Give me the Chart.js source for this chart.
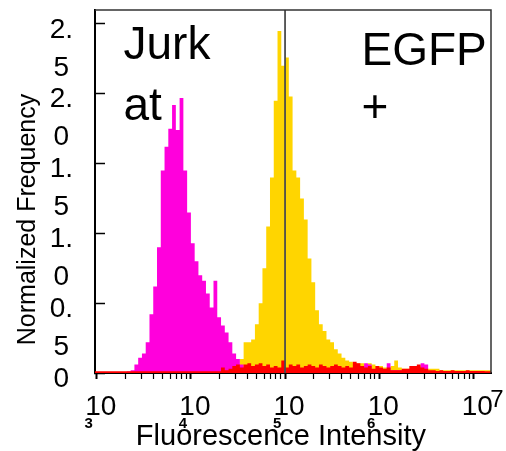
<!DOCTYPE html>
<html>
<head>
<meta charset="utf-8">
<script src="https://cdn.jsdelivr.net/npm/chart.js@4"></script>
<style>
  html, body { margin: 0; padding: 0; background: #fff; }
  #wrap { width: 506px; height: 451px; }
</style>
</head>
<body>
<div id="wrap"><canvas id="c" width="506" height="451"></canvas></div>
<script>
// ---- histogram bins (log10 of fluorescence), 0.04 decade wide, starting at 10^2.96 ----
const binStartLog = 2.96;
const binWidthLog = 0.04;

// Jurkat (magenta) normalized frequency per bin
const magenta = [
  0, 0, 0, 0, 0, 0, 0, 0, 0, 0.01,
  0.02, 0.06, 0.11, 0.14, 0.22, 0.42, 0.62, 0.90, 1.45, 1.62,
  1.75, 1.92, 1.74, 1.97, 1.45, 1.15, 0.93, 0.80, 0.70, 0.66,
  0.57, 0.47, 0.66, 0.40, 0.34, 0.29, 0.22, 0.14, 0.10, 0.06,
  0.04, 0.02, 0.02, 0.02, 0.02, 0.02, 0.02, 0.02, 0.02, 0.02,
  0.02, 0.02, 0.02, 0.02, 0.02, 0.02, 0.02, 0.02, 0.02, 0.02,
  0.02, 0.02, 0.02, 0.02, 0.02, 0.02, 0.02, 0.02, 0.02, 0.02,
  0.02, 0.02, 0.07, 0.06, 0.02, 0.02, 0.02, 0.02, 0.07, 0.02,
  0.02, 0.02, 0.02, 0.02, 0.02, 0.02, 0.02, 0.07, 0.06, 0.01,
  0.01, 0.01, 0.01, 0.01, 0.01, 0.01, 0, 0, 0, 0,
  0, 0, 0, 0, 0, 0
];

// EGFP+ (yellow) normalized frequency per bin
const yellow = [
  0, 0, 0, 0, 0, 0, 0, 0, 0, 0,
  0, 0, 0, 0, 0, 0, 0, 0, 0, 0,
  0, 0, 0, 0, 0, 0, 0, 0, 0, 0,
  0, 0, 0, 0, 0, 0, 0, 0, 0, 0.10,
  0.22, 0.22, 0.24, 0.35, 0.50, 0.75, 1.05, 1.40, 1.95, 2.45,
  2.20, 2.26, 1.98, 1.45, 1.40, 1.25, 1.10, 0.82, 0.65, 0.45,
  0.35, 0.30, 0.24, 0.22, 0.17, 0.14, 0.11, 0.09, 0.08, 0.07,
  0.07, 0.07, 0.06, 0.07, 0.06, 0.05, 0.05, 0.04, 0.04, 0.05,
  0.09, 0.04, 0.03, 0.03, 0.03, 0.05, 0.05, 0.04, 0.03, 0.03,
  0.03, 0.03, 0.02, 0.02, 0.02, 0.02, 0.02, 0.02, 0.02, 0.02,
  0.02, 0.02, 0.02, 0.02, 0.02, 0.02
];

// third (red) population normalized frequency per bin
const red = [
  0.012, 0.012, 0.012, 0.012, 0.012, 0.012, 0.012, 0.012, 0.012, 0.012,
  0.012, 0.012, 0.012, 0.012, 0.012, 0.012, 0.012, 0.012, 0.012, 0.012,
  0.012, 0.012, 0.012, 0.012, 0.012, 0.012, 0.012, 0.012, 0.012, 0.012,
  0.012, 0.012, 0.012, 0.012, 0.04, 0.02, 0.03, 0.05, 0.06, 0.04,
  0.06, 0.07, 0.05, 0.06, 0.07, 0.05, 0.06, 0.04, 0.05, 0.04,
  0.09, 0.04, 0.06, 0.05, 0.06, 0.04, 0.05, 0.06, 0.05, 0.04,
  0.06, 0.05, 0.04, 0.05, 0.06, 0.05, 0.04, 0.05, 0.04, 0.08,
  0.07, 0.05, 0.04, 0.05, 0.03, 0.05, 0.04, 0.03, 0.04, 0.02,
  0.02, 0.02, 0.03, 0.03, 0.05, 0.05, 0.06, 0.04, 0.03, 0.02,
  0.02, 0.015, 0.02, 0.015, 0.015, 0.02, 0.015, 0.015, 0.015, 0.02,
  0.015, 0.015, 0.015, 0.015, 0.012, 0.012
];

// axes
const xTickValues = [1e3, 1e4, 1e5, 1e6, 1e7];
const xTickBase = ['10', '10', '10', '10', '10'];
const xTickExponents = ['3', '4', '5', '6', '7'];
const yTickValues = [0, 0.5, 1, 1.5, 2, 2.5];
const yTickLabels = [['0', ''], ['0.', '5'], ['1.', '0'], ['1.', '5'], ['2.', '0'], ['2.', '5']];
const gateValue = 1e5;
const xTitle = 'Fluorescence Intensity';
const yTitle = 'Normalized Frequency';
const leftLabel = ['Jurk', 'at'];
const rightLabel = ['EGFP', '+'];

// ---- build step data from the bins ----
const binEdges = [];
for (let k = 0; k <= magenta.length; k++) binEdges.push(Math.pow(10, binStartLog + binWidthLog * k));
function toSteps(values) {
  const pts = values.map((v, k) => ({ x: binEdges[k], y: v }));
  pts.push({ x: binEdges[values.length], y: 0 });
  return pts;
}
const xMinorTicks = [];
for (let e = 3; e <= 7; e++) for (let m = 1; m <= 9; m++) {
  const v = m * Math.pow(10, e);
  if (v <= 1.54e7) xMinorTicks.push(v);
}
const isDecade = v => Math.abs(Math.log10(v) - Math.round(Math.log10(v))) < 1e-9;

const FONT = '"Liberation Sans", Arial, Helvetica, sans-serif';

const frame = {
  id: 'frame',
  afterDatasetsDraw(chart) {
    const { ctx, chartArea: a } = chart;
    ctx.save();
    ctx.strokeStyle = '#333';
    ctx.lineWidth = 1.5;
    ctx.beginPath();
    ctx.moveTo(a.left, a.top);
    ctx.lineTo(a.right, a.top);
    ctx.lineTo(a.right, a.bottom);
    ctx.stroke();
    ctx.restore();
  }
};

const annotate = {
  id: 'annotate',
  afterDraw(chart) {
    const { ctx, chartArea: a, scales: { x } } = chart;
    ctx.save();
    ctx.fillStyle = '#000';
    ctx.textAlign = 'left';
    ctx.textBaseline = 'alphabetic';
    ctx.font = '46px ' + FONT;
    leftLabel.forEach((t, i) => ctx.fillText(t, a.left + 28.5, a.top + 49 + 61 * i));
    rightLabel.forEach((t, i) => ctx.fillText(t, a.left + 266.5, a.top + 55 + 57 * i));
    // exponents of the decade labels
    xTickExponents.forEach((t, i) => {
      const px = x.getPixelForValue(xTickValues[i]);
      if (i < xTickExponents.length - 1) {
        ctx.font = 'bold 15px ' + FONT;
        ctx.textAlign = 'center';
        ctx.fillText(t, px - 8, 428);
      } else {
        ctx.font = '24px ' + FONT;
        ctx.textAlign = 'left';
        ctx.fillText(t, px + 17, 407);
      }
    });
    ctx.restore();
  }
};

new Chart(document.getElementById('c'), {
  type: 'line',
  data: {
    datasets: [
      { label: 'gate', data: [{ x: gateValue, y: 0 }, { x: gateValue, y: 2.6 }],
        borderColor: '#4d4d4d', borderWidth: 1.8, pointRadius: 0, fill: false },
      { label: 'red', data: toSteps(red), stepped: 'before', fill: 'origin',
        backgroundColor: '#ff0000', borderColor: 'rgba(0,0,0,0)', borderWidth: 0, pointRadius: 0 },
      { label: 'Jurkat', data: toSteps(magenta), stepped: 'before', fill: 'origin',
        backgroundColor: '#ff00dc', borderColor: 'rgba(0,0,0,0)', borderWidth: 0, pointRadius: 0 },
      { label: 'EGFP+', data: toSteps(yellow), stepped: 'before', fill: 'origin',
        backgroundColor: '#ffd500', borderColor: 'rgba(0,0,0,0)', borderWidth: 0, pointRadius: 0 }
    ]
  },
  options: {
    responsive: false,
    animation: false,
    devicePixelRatio: 1,
    events: [],
    layout: { padding: { top: 10, right: 15, left: 0, bottom: 0 } },
    plugins: { legend: { display: false }, tooltip: { enabled: false } },
    scales: {
      x: {
        type: 'logarithmic',
        min: 958, max: 1.54e7,
        afterBuildTicks: s => { s.ticks = xMinorTicks.map(v => ({ value: v, major: isDecade(v) })); },
        afterFit: s => { s.height = 78; s.paddingLeft = 0; s.paddingRight = 0; },
        ticks: {
          autoSkip: false, maxRotation: 0, minRotation: 0,
          labelOffset: 4, padding: 11,
          color: '#000',
          font: { family: FONT, size: 28, lineHeight: 1.2 },
          callback: (v) => {
            const i = xTickValues.findIndex(t => Math.abs(t - v) / t < 1e-9);
            return i >= 0 ? xTickBase[i] : '';
          }
        },
        grid: {
          drawOnChartArea: false, drawTicks: true, tickLength: 6,
          tickColor: '#000',
          tickWidth: c => (c.tick && c.tick.major ? 2 : 1.2)
        },
        border: { display: true, color: '#000', width: 2 },
        title: {
          display: true, text: xTitle + '   ', color: '#000',
          font: { family: FONT, size: 29, lineHeight: 1 },
          padding: { top: 0, bottom: 0 }
        }
      },
      y: {
        type: 'linear',
        min: 0, max: 2.6,
        afterBuildTicks: s => { s.ticks = yTickValues.map(v => ({ value: v })); },
        afterFit: s => { s.width = 95; s.paddingTop = 0; s.paddingBottom = 0; },
        ticks: {
          autoSkip: false, crossAlign: 'center',
          padding: 32, labelOffset: 25,
          color: '#000',
          font: { family: FONT, size: 28, lineHeight: 1.357 },
          callback: (v, i) => yTickLabels[i]
        },
        grid: {
          drawOnChartArea: false, drawTicks: true, tickLength: -10,
          tickColor: '#000', tickWidth: 1.5
        },
        border: { display: true, color: '#000', width: 2 },
        title: {
          display: true, text: '    ' + yTitle, align: 'start', color: '#000',
          font: { family: FONT, size: 25, lineHeight: 1 },
          padding: { top: 16, bottom: 0 }
        }
      }
    }
  },
  plugins: [frame, annotate]
});
</script>
</body>
</html>
